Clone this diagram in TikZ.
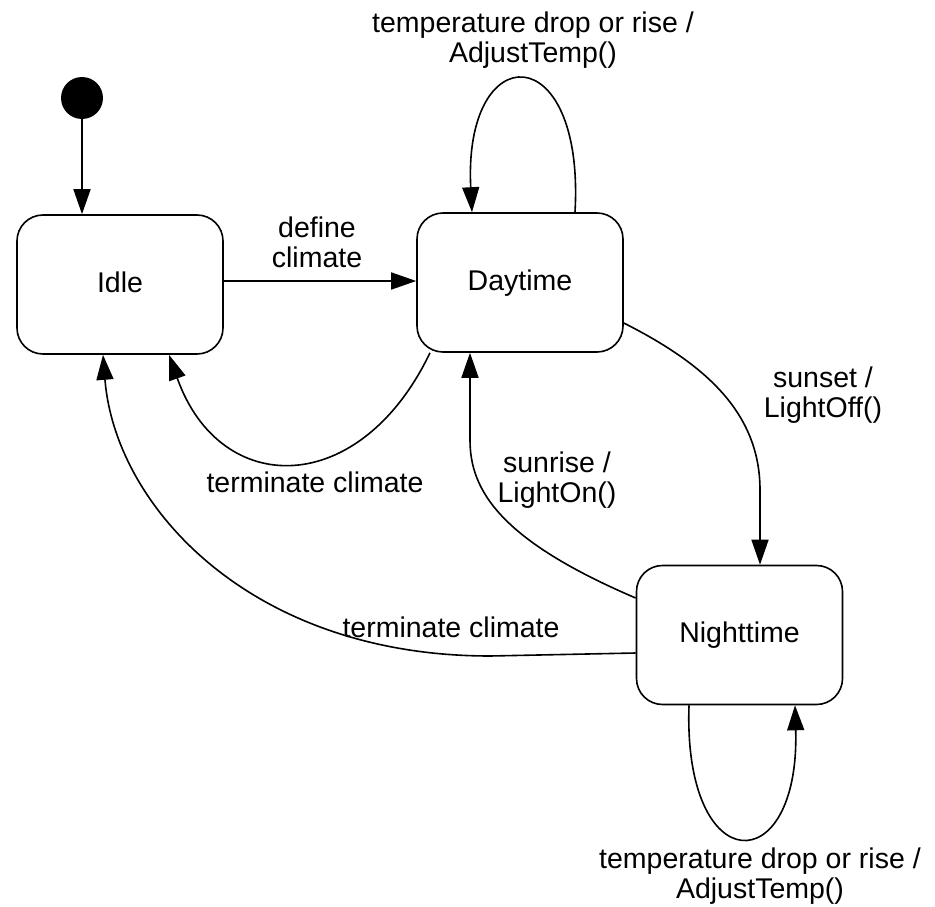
\documentclass[tikz,border=0pt]{standalone}
\usepackage{fontspec}
\setmainfont{Liberation Sans}
\usetikzlibrary{arrows.meta}
\begin{document}
\begin{tikzpicture}[x=1pt,y=-1pt,
  every node/.style={font=\fontsize{28.5}{30}\selectfont},
  state/.style={draw, line width=1.6pt, rounded corners=26pt,
    minimum width=206pt, minimum height=139pt, inner sep=0pt,
    text height=21pt, text depth=6pt},
  initial/.style={circle, fill=black, minimum size=42pt, inner sep=0pt},
  trans/.style={line width=1.6pt, -{Triangle[length=25pt,width=17pt]}},
  lbl/.style={align=center, anchor=base, inner sep=0pt}]
\useasboundingbox (0,0) rectangle (935,907);

% states
\node[initial] (init) at (82,98) {};
\node[state] (idle) at (120,284.5) {Idle};
\node[state] (day) at (520,282.5) {Daytime};
\node[state] (night) at (739.5,635) {Nighttime};

% initial transition
\draw[trans] (init) -- (idle.north -| init);

% Idle -> Daytime (label base = last line)
\draw[trans] ([yshift=1.5pt]day.west -| idle.east) -- ([yshift=1.5pt]day.west);
\node[lbl] (lDefine) at (317,267) {define\\climate};

% Daytime self loop
\draw[trans] ([xshift=55pt]day.north) .. controls +(10,-176) and +(-9,-176) .. ([xshift=-48pt]day.north);
\node[lbl] (lDayLoop) at (533,63) {temperature drop or rise /\\AdjustTemp()};

% Daytime -> Nighttime
\coordinate (sunsetBend) at (760,490);
\draw[trans] ([yshift=-40.5pt]day.east) .. controls +(77,39) and +(0,-80) .. (sunsetBend) -- ([xshift=20.5pt]night.north);
\node[lbl] (lSunset) at (823,417) {sunset /\\LightOff()};

% Nighttime -> Daytime
\coordinate (sunriseBend) at (470,440);
\draw[trans] ([yshift=37pt]night.west) .. controls +(-136,-58) and +(0,50) .. (sunriseBend) -- ([xshift=-50pt]day.south);
\node[lbl] (lSunrise) at (557,502) {sunrise /\\LightOn()};

% Daytime -> Idle
\draw[trans] ([xshift=-90pt]day.south) .. controls +(-70,146) and +(51,144) .. ([xshift=49pt]idle.south);
\node[lbl] (lTermA) at (315,492) {terminate climate};

% Nighttime -> Idle
\coordinate (termBend) at (490,656);
\draw[trans] ([yshift=-18pt]night.west) -- (termBend) .. controls (250,656) and +(12,151) .. ([xshift=-17pt]idle.south);
\node[lbl] (lTermB) at (451,637) {terminate climate};

% Nighttime self loop
\draw[trans] ([xshift=-50.5pt]night.south) .. controls +(-6,176) and +(5,176) .. ([xshift=55.5pt]night.south);
\node[lbl] (lNightLoop) at (760,898) {temperature drop or rise /\\AdjustTemp()};
\end{tikzpicture}
\end{document}
